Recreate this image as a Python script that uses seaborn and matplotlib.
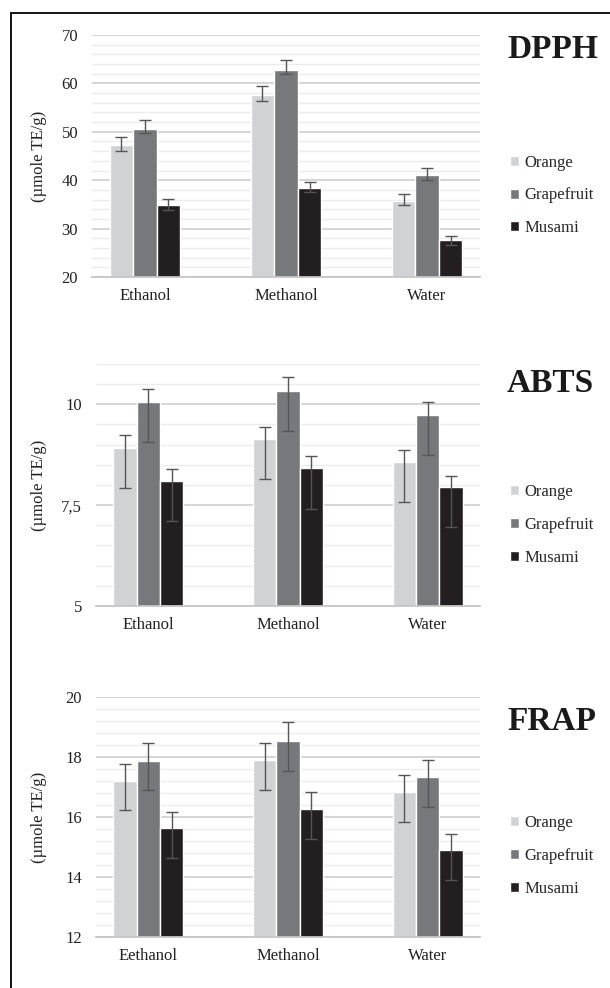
import numpy as np
import pandas as pd
import seaborn as sns
from matplotlib import pyplot as plt
from matplotlib.ticker import FixedLocator, FixedFormatter, MultipleLocator
from matplotlib.lines import Line2D

# categories
solvents = ["Ethanol", "Methanol", "Water"]
solvents_frap = ["Eethanol", "Methanol", "Water"]
fruits = ["Orange", "Grapefruit", "Musami"]
fruit_colors = ["#d1d2d4", "#77787b", "#231f20"]

# DPPH (umole TE/g): rows = fruits, columns = solvents
dpph_vals = [[47.2, 57.6, 35.8], [50.6, 62.8, 41.1], [34.9, 38.3, 27.6]]
dpph_err_hi = [[1.7, 1.8, 1.3], [1.8, 2.0, 1.4], [1.3, 1.3, 0.9]]
dpph_err_lo = [[1.1, 1.2, 0.9], [0.9, 0.9, 1.1], [1.1, 0.7, 1.0]]
dpph_ticks = [20, 30, 40, 50, 60, 70]
dpph_ticklabels = ["20", "30", "40", "50", "60", "70"]

# ABTS
abts_vals = [[8.92, 9.14, 8.58], [10.06, 10.34, 9.74], [8.09, 8.41, 7.96]]
abts_err_hi = [[0.31, 0.30, 0.30], [0.33, 0.33, 0.32], [0.30, 0.30, 0.27]]
abts_err_lo = [[0.99, 1.00, 1.00], [0.99, 0.99, 1.00], [0.99, 1.00, 1.00]]
abts_ticks = [5, 7.5, 10]
abts_ticklabels = ["5", "7,5", "10"]

# FRAP
frap_vals = [[17.21, 17.91, 16.85], [17.88, 18.54, 17.33], [15.62, 16.26, 14.90]]
frap_err_hi = [[0.57, 0.56, 0.55], [0.60, 0.62, 0.58], [0.56, 0.57, 0.52]]
frap_err_lo = [[0.99, 1.01, 1.01], [0.98, 1.00, 1.00], [0.97, 0.99, 1.00]]
frap_ticks = [12, 14, 16, 18, 20]
frap_ticklabels = ["12", "14", "16", "18", "20"]

sns.set_style("white")
plt.rcParams["font.family"] = ["Liberation Serif", "DejaVu Serif"]

W, H = 610, 988
fig = plt.figure(figsize=(W / 100, H / 100), dpi=100)


def draw_panel(box, names, vals, err_hi, err_lo, ylim, ticks, ticklabels,
               minor_step, title, title_y, legend_y, label_x):
    left, top, right, bottom = box
    ax = fig.add_axes([left / W, 1 - bottom / H, (right - left) / W, (bottom - top) / H])

    df = pd.DataFrame({
        "solvent": [s for f in fruits for s in names],
        "fruit": [f for f in fruits for s in names],
        "value": [v for row in vals for v in row],
    })
    sns.barplot(data=df, x="solvent", y="value", hue="fruit", order=names,
                hue_order=fruits, palette=fruit_colors, saturation=1,
                width=0.5, errorbar=None, ax=ax)

    # asymmetric error bars on top of each bar
    for cont, hi, lo in zip(ax.containers, err_hi, err_lo):
        xs = [b.get_x() + b.get_width() / 2 for b in cont]
        ys = [b.get_height() for b in cont]
        ax.errorbar(xs, ys, yerr=[lo, hi], fmt="none", ecolor="#555555",
                    elinewidth=1.0, capsize=4, capthick=1.0, zorder=5)

    ax.set_ylim(*ylim)
    ax.yaxis.set_major_locator(FixedLocator(ticks))
    ax.yaxis.set_major_formatter(FixedFormatter(ticklabels))
    ax.yaxis.set_minor_locator(MultipleLocator(minor_step))
    ax.set_axisbelow(True)
    ax.grid(which="minor", axis="y", color="#ececec", lw=1.0)
    ax.grid(which="major", axis="y", color="#d2d2d2", lw=1.3)
    ax.tick_params(which="both", length=0, labelsize=12, colors="#222222")
    ax.tick_params(axis="y", pad=10)
    ax.tick_params(axis="x", pad=8)
    for sp in ["left", "top", "right"]:
        ax.spines[sp].set_visible(False)
    ax.spines["bottom"].set_color("#c6c6c6")
    ax.spines["bottom"].set_linewidth(1.3)

    ax.set_xlabel("")
    ax.set_ylabel("(µmole TE/g)", fontsize=12, color="#222222")
    ax.yaxis.set_label_coords(label_x, 0.5)

    handles, labels = ax.get_legend_handles_labels()
    ax.legend(handles, labels, loc="center left",
              bbox_to_anchor=(510 / W, 1 - legend_y / H),
              bbox_transform=fig.transFigure, frameon=False, fontsize=12,
              handlelength=0.55, handleheight=0.55, handletextpad=0.3,
              labelspacing=1.0, borderpad=0, borderaxespad=0)

    fig.text(507 / W, 1 - title_y / H, title, ha="left", va="center",
             fontsize=24, fontweight="bold", color="#1a1a1a")
    return ax


draw_panel((92, 35, 480, 277), solvents, dpph_vals, dpph_err_hi, dpph_err_lo,
           (20, 70), dpph_ticks, dpph_ticklabels, 2, "DPPH", 49, 195.5, -0.116)
draw_panel((96, 364, 480, 606), solvents, abts_vals, abts_err_hi, abts_err_lo,
           (5, 11), abts_ticks, abts_ticklabels, 0.5, "ABTS", 383, 525, -0.128)
draw_panel((96, 697, 480, 937), solvents_frap, frap_vals, frap_err_hi, frap_err_lo,
           (12, 20), frap_ticks, frap_ticklabels, 0.4, "FRAP", 722, 856, -0.128)

# outer frame (top and left edges visible in the reference)
fig.add_artist(Line2D([11 / W, 1.0], [1 - 13 / H, 1 - 13 / H],
                      transform=fig.transFigure, color="black", lw=1.3))
fig.add_artist(Line2D([11 / W, 11 / W], [0.0, 1 - 13 / H],
                      transform=fig.transFigure, color="black", lw=1.3))

fig.savefig("out.png", dpi=100)
